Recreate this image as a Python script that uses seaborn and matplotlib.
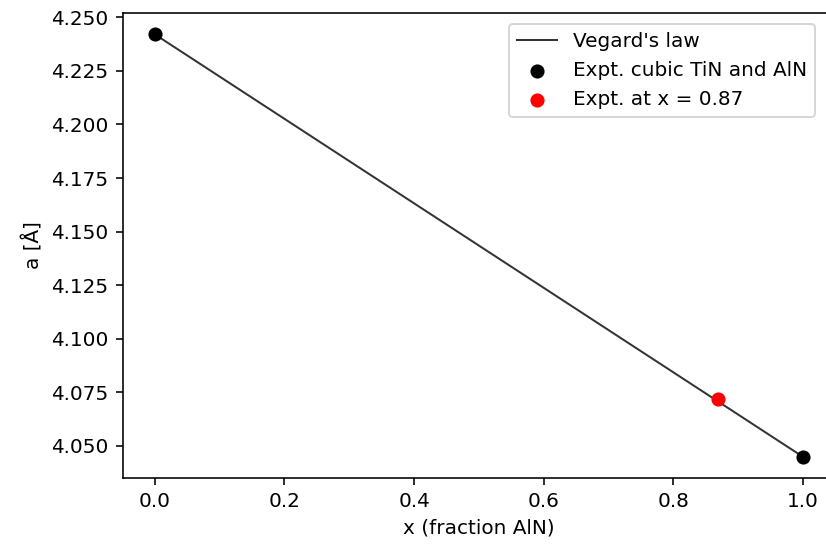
import matplotlib
matplotlib.use("Agg")
import matplotlib.pyplot as plt
import seaborn as sns
import pandas as pd

# Data
x_line = [0.0, 1.0]
a_line = [4.242, 4.045]
x_expt = [0.0, 1.0]
a_expt = [4.242, 4.045]
x_red = [0.87]
a_red = [4.072]

DPI = 144
fig = plt.figure(figsize=(826 / DPI, 548 / DPI), dpi=DPI)
ax = fig.add_axes([0.1484, 0.1283, 1.0109 - 0.1484, 0.9757 - 0.1283])

sns.lineplot(x=x_line, y=a_line, ax=ax, color="#333333", linewidth=1.0,
             label="Vegard's law")
sns.scatterplot(x=x_expt, y=a_expt, ax=ax, color="black", s=50, linewidth=0,
                label="Expt. cubic TiN and AlN", zorder=3)
sns.scatterplot(x=x_red, y=a_red, ax=ax, color="red", s=50, linewidth=0,
                label="Expt. at x = 0.87", zorder=3)

ax.margins(x=0.05, y=0.05)
ax.set_xlabel("x (fraction AlN)")
ax.set_ylabel("a [Å]")
ax.set_xticks([0.0, 0.2, 0.4, 0.6, 0.8, 1.0])
ax.set_yticks([4.050, 4.075, 4.100, 4.125, 4.150, 4.175, 4.200, 4.225, 4.250])
ax.yaxis.set_major_formatter(matplotlib.ticker.FormatStrFormatter("%.3f"))

ax.legend(loc="upper right", bbox_to_anchor=(0.972, 0.977), borderaxespad=0)

fig.savefig("out.png", dpi=DPI)
